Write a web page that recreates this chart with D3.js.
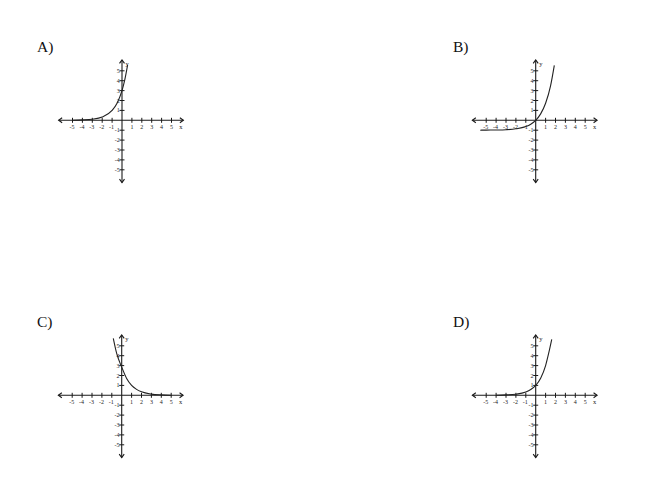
<!DOCTYPE html>
<html>
<head>
<meta charset="utf-8">
<script src="https://cdn.jsdelivr.net/npm/d3@7"></script>
<style>
  html, body { margin: 0; padding: 0; background: #fff; }
  svg { display: block; }
</style>
</head>
<body>
<svg id="chart" width="653" height="486"></svg>
<script>
// ---- data ----
const panelLabels = ["A)", "B)", "C)", "D)"];
const xTicks = [-5, -4, -3, -2, -1, 1, 2, 3, 4, 5];
const yTicks = [-5, -4, -3, -2, -1, 1, 2, 3, 4, 5];
const xTickLabels = ["-5", "-4", "-3", "-2", "-1", "1", "2", "3", "4", "5"];
const yTickLabels = ["-5", "-4", "-3", "-2", "-1", "1", "2", "3", "4", "5"];

const curveAx = [-5, -4, -3, -2, -1, -0.5, 0, 0.25, 0.57];
const curveAy = [0.01, 0.04, 0.11, 0.33, 1, 1.73, 3, 3.95, 5.6];

const curveBx = [-5.6, -5, -4, -3, -2, -1, -0.5, 0, 0.5, 1, 1.5, 1.88];
const curveBy = [-1, -0.99, -0.98, -0.95, -0.86, -0.63, -0.39, 0, 0.65, 1.72, 3.48, 5.55];

const curveCx = [-0.85, -0.5, 0, 0.5, 1, 1.5, 2, 3, 4, 5];
const curveCy = [5.75, 4.2, 2.85, 1.7, 1.0, 0.6, 0.35, 0.12, 0.04, 0.01];

const curveDx = [-4, -3, -2, -1, -0.5, 0, 0.5, 1, 1.3, 1.62];
const curveDy = [0.01, 0.04, 0.11, 0.33, 0.58, 1, 1.73, 3, 4.2, 5.65];

const curves = [
  [curveAx, curveAy],
  [curveBx, curveBy],
  [curveCx, curveCy],
  [curveDx, curveDy]
];

// ---- layout ----
const origins = [[122, 120.3], [535.7, 120.3], [121.7, 395.3], [535.7, 395.3]];
const labelPos = [[37, 52], [453, 52], [37, 327], [453, 327]];
const unit = 9.9;
const serif = "Liberation Serif, Times New Roman, serif";

const svg = d3.select("#chart");

panelLabels.forEach((lab, i) => {
  const [cx, cy] = origins[i];
  const x = d3.scaleLinear().domain([-5, 5]).range([cx - 5 * unit, cx + 5 * unit]);
  const y = d3.scaleLinear().domain([-5, 5]).range([cy + 5 * unit, cy - 5 * unit]);
  const g = svg.append("g");

  // panel label
  svg.append("text")
    .attr("x", labelPos[i][0]).attr("y", labelPos[i][1])
    .attr("font-family", serif)
    .attr("font-size", 15.5)
    .attr("fill", "#111")
    .text(lab);

  const ax = "#1a1a1a";
  // axes
  const xl = x(-6.4), xr = x(6.2), yt = y(6.1), yb = y(-6.3);
  g.append("line").attr("x1", xl).attr("x2", xr).attr("y1", cy).attr("y2", cy)
    .attr("stroke", ax).attr("stroke-width", 1.1);
  g.append("line").attr("x1", cx).attr("x2", cx).attr("y1", yt).attr("y2", yb)
    .attr("stroke", ax).attr("stroke-width", 1.1);
  // arrowheads
  const a = 3.5, b = 2.5;
  const arrows = [
    `M${xl + a},${cy - b}L${xl},${cy}L${xl + a},${cy + b}`,
    `M${xr - a},${cy - b}L${xr},${cy}L${xr - a},${cy + b}`,
    `M${cx - b},${yt + a}L${cx},${yt}L${cx + b},${yt + a}`,
    `M${cx - b},${yb - a}L${cx},${yb}L${cx + b},${yb - a}`
  ];
  arrows.forEach(d => g.append("path").attr("d", d).attr("fill", "none")
    .attr("stroke", ax).attr("stroke-width", 1.1));

  // ticks
  xTicks.forEach((t, k) => {
    g.append("line").attr("x1", x(t)).attr("x2", x(t)).attr("y1", cy - 2.5).attr("y2", cy + 2.5)
      .attr("stroke", ax).attr("stroke-width", 1);
    g.append("text").attr("x", x(t) + (t < 0 ? -0.5 : 0)).attr("y", cy + 9)
      .attr("text-anchor", "middle")
      .attr("font-family", serif)
      .attr("font-size", 6).attr("fill", "#222")
      .text(xTickLabels[k]);
  });
  yTicks.forEach((t, k) => {
    g.append("line").attr("x1", cx - 2.5).attr("x2", cx + 2.5).attr("y1", y(t)).attr("y2", y(t))
      .attr("stroke", ax).attr("stroke-width", 1);
    g.append("text").attr("x", cx - 2.2).attr("y", y(t) + 2)
      .attr("text-anchor", "end")
      .attr("font-family", serif)
      .attr("font-size", 6).attr("fill", "#222")
      .text(yTickLabels[k]);
  });
  // axis names
  g.append("text").attr("x", cx + 3.5).attr("y", y(5.6) + 1)
    .attr("font-family", serif)
    .attr("font-size", 6.5).attr("fill", "#222").text("y");
  g.append("text").attr("x", x(5.95)).attr("y", cy + 9)
    .attr("text-anchor", "middle")
    .attr("font-family", serif)
    .attr("font-size", 6.5).attr("fill", "#222").text("x");

  // curve
  const [cxs, cys] = curves[i];
  const pts = cxs.map((v, k) => [v, cys[k]]);
  const line = d3.line().x(d => x(d[0])).y(d => y(d[1])).curve(d3.curveMonotoneX);
  g.append("path").attr("d", line(pts)).attr("fill", "none")
    .attr("stroke", "#222").attr("stroke-width", 1.1);
});
</script>
</body>
</html>
